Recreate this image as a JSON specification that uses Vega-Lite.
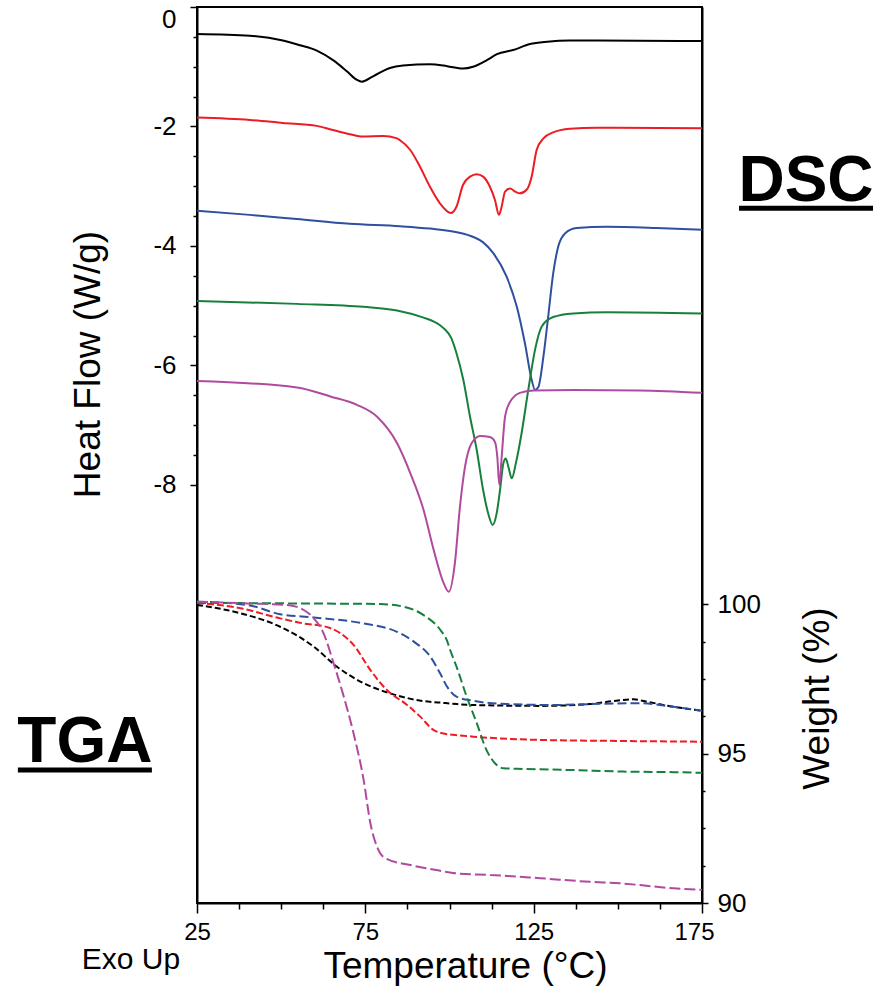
{
  "$schema": "https://vega.github.io/schema/vega-lite/v6.json",
  "width": 505,
  "height": 896,
  "autosize": {"type": "none"},
  "padding": {"left": 197, "top": 7, "right": 183, "bottom": 84},
  "background": "white",
  "config": {
    "view": {"stroke": "#000", "strokeWidth": 2},
    "font": "Liberation Sans",
    "axis": {"domainColor": "#000", "domainWidth": 2, "tickColor": "#000", "tickWidth": 1.5, "labelFont": "Liberation Sans", "labelFontSize": 24, "labelColor": "#000", "titleFont": "Liberation Sans", "titleFontSize": 37, "titleFontWeight": "normal", "titleColor": "#000", "grid": false, "labelFlush": false, "labelOverlap": false, "labelBound": false}
  },
  "datasets": {
    "dsc": [
      {"s": "A", "T": 25, "HF": -0.45}, {"s": "A", "T": 40.7, "HF": -0.48}, {"s": "A", "T": 50.5, "HF": -0.56}, {"s": "A", "T": 55.6, "HF": -0.64}, {"s": "A", "T": 60.6, "HF": -0.73}, {"s": "A", "T": 65.4, "HF": -0.89}, {"s": "A", "T": 69.6, "HF": -1.08}, {"s": "A", "T": 72.5, "HF": -1.22}, {"s": "A", "T": 74.0, "HF": -1.25}, {"s": "A", "T": 77.3, "HF": -1.16}, {"s": "A", "T": 82.3, "HF": -1.02}, {"s": "A", "T": 86.2, "HF": -0.98}, {"s": "A", "T": 94.2, "HF": -0.96}, {"s": "A", "T": 99.3, "HF": -0.99}, {"s": "A", "T": 104.0, "HF": -1.03}, {"s": "A", "T": 107.0, "HF": -1.0}, {"s": "A", "T": 111.1, "HF": -0.89}, {"s": "A", "T": 114.1, "HF": -0.79}, {"s": "A", "T": 118.9, "HF": -0.72}, {"s": "A", "T": 123.9, "HF": -0.62}, {"s": "A", "T": 129.0, "HF": -0.58}, {"s": "A", "T": 135.8, "HF": -0.56}, {"s": "A", "T": 143.8, "HF": -0.56}, {"s": "A", "T": 168.5, "HF": -0.57}, {"s": "A", "T": 175, "HF": -0.57},
      {"s": "B", "T": 25, "HF": -1.85}, {"s": "B", "T": 40.7, "HF": -1.89}, {"s": "B", "T": 50.5, "HF": -1.94}, {"s": "B", "T": 60.6, "HF": -1.99}, {"s": "B", "T": 65.4, "HF": -2.06}, {"s": "B", "T": 70.4, "HF": -2.13}, {"s": "B", "T": 74.3, "HF": -2.17}, {"s": "B", "T": 80.2, "HF": -2.16}, {"s": "B", "T": 84.4, "HF": -2.2}, {"s": "B", "T": 85.3, "HF": -2.23}, {"s": "B", "T": 88.3, "HF": -2.39}, {"s": "B", "T": 91.2, "HF": -2.67}, {"s": "B", "T": 94.2, "HF": -3.01}, {"s": "B", "T": 97.2, "HF": -3.29}, {"s": "B", "T": 100.4, "HF": -3.45}, {"s": "B", "T": 102.1, "HF": -3.34}, {"s": "B", "T": 104.0, "HF": -2.98}, {"s": "B", "T": 106.1, "HF": -2.84}, {"s": "B", "T": 108.1, "HF": -2.8}, {"s": "B", "T": 110.0, "HF": -2.84}, {"s": "B", "T": 112.0, "HF": -3.01}, {"s": "B", "T": 113.5, "HF": -3.23}, {"s": "B", "T": 114.7, "HF": -3.48}, {"s": "B", "T": 115.5, "HF": -3.34}, {"s": "B", "T": 116.5, "HF": -3.09}, {"s": "B", "T": 118.0, "HF": -3.04}, {"s": "B", "T": 119.5, "HF": -3.09}, {"s": "B", "T": 120.9, "HF": -3.12}, {"s": "B", "T": 122.9, "HF": -3.06}, {"s": "B", "T": 124.4, "HF": -2.84}, {"s": "B", "T": 125.9, "HF": -2.39}, {"s": "B", "T": 127.9, "HF": -2.2}, {"s": "B", "T": 130.8, "HF": -2.1}, {"s": "B", "T": 135.8, "HF": -2.04}, {"s": "B", "T": 143.7, "HF": -2.02}, {"s": "B", "T": 175, "HF": -2.03},
      {"s": "C", "T": 25, "HF": -3.41}, {"s": "C", "T": 40.7, "HF": -3.48}, {"s": "C", "T": 54.7, "HF": -3.55}, {"s": "C", "T": 70.4, "HF": -3.63}, {"s": "C", "T": 85.3, "HF": -3.67}, {"s": "C", "T": 94.2, "HF": -3.71}, {"s": "C", "T": 102.2, "HF": -3.77}, {"s": "C", "T": 107.1, "HF": -3.85}, {"s": "C", "T": 110.0, "HF": -3.94}, {"s": "C", "T": 113.0, "HF": -4.12}, {"s": "C", "T": 117.0, "HF": -4.52}, {"s": "C", "T": 120.0, "HF": -5.02}, {"s": "C", "T": 122.4, "HF": -5.63}, {"s": "C", "T": 124.4, "HF": -6.24}, {"s": "C", "T": 125.4, "HF": -6.41}, {"s": "C", "T": 126.4, "HF": -6.36}, {"s": "C", "T": 127.9, "HF": -5.85}, {"s": "C", "T": 129.3, "HF": -5.19}, {"s": "C", "T": 130.8, "HF": -4.46}, {"s": "C", "T": 132.3, "HF": -4.01}, {"s": "C", "T": 134.3, "HF": -3.79}, {"s": "C", "T": 137.8, "HF": -3.7}, {"s": "C", "T": 146.7, "HF": -3.68}, {"s": "C", "T": 161.5, "HF": -3.7}, {"s": "C", "T": 175, "HF": -3.73},
      {"s": "D", "T": 25, "HF": -4.92}, {"s": "D", "T": 54.7, "HF": -4.97}, {"s": "D", "T": 74.5, "HF": -5.02}, {"s": "D", "T": 84.4, "HF": -5.08}, {"s": "D", "T": 92.3, "HF": -5.2}, {"s": "D", "T": 95.5, "HF": -5.27}, {"s": "D", "T": 98.3, "HF": -5.38}, {"s": "D", "T": 100.5, "HF": -5.54}, {"s": "D", "T": 102.1, "HF": -5.8}, {"s": "D", "T": 104.1, "HF": -6.24}, {"s": "D", "T": 106.1, "HF": -6.86}, {"s": "D", "T": 108.1, "HF": -7.42}, {"s": "D", "T": 110.0, "HF": -8.09}, {"s": "D", "T": 111.5, "HF": -8.48}, {"s": "D", "T": 112.8, "HF": -8.67}, {"s": "D", "T": 114.0, "HF": -8.48}, {"s": "D", "T": 115.0, "HF": -8.09}, {"s": "D", "T": 116.0, "HF": -7.64}, {"s": "D", "T": 116.7, "HF": -7.56}, {"s": "D", "T": 117.5, "HF": -7.7}, {"s": "D", "T": 118.5, "HF": -7.89}, {"s": "D", "T": 119.7, "HF": -7.64}, {"s": "D", "T": 121.4, "HF": -7.14}, {"s": "D", "T": 123.4, "HF": -6.41}, {"s": "D", "T": 125.4, "HF": -5.74}, {"s": "D", "T": 127.4, "HF": -5.35}, {"s": "D", "T": 130.8, "HF": -5.19}, {"s": "D", "T": 136.8, "HF": -5.13}, {"s": "D", "T": 146.7, "HF": -5.11}, {"s": "D", "T": 175, "HF": -5.13},
      {"s": "E", "T": 25, "HF": -6.26}, {"s": "E", "T": 54.7, "HF": -6.37}, {"s": "E", "T": 64.6, "HF": -6.52}, {"s": "E", "T": 72.5, "HF": -6.66}, {"s": "E", "T": 78.5, "HF": -6.86}, {"s": "E", "T": 84.4, "HF": -7.3}, {"s": "E", "T": 88.4, "HF": -7.81}, {"s": "E", "T": 92.3, "HF": -8.42}, {"s": "E", "T": 95.3, "HF": -9.09}, {"s": "E", "T": 98.3, "HF": -9.65}, {"s": "E", "T": 99.8, "HF": -9.79}, {"s": "E", "T": 101.6, "HF": -9.31}, {"s": "E", "T": 103.1, "HF": -8.37}, {"s": "E", "T": 104.6, "HF": -7.7}, {"s": "E", "T": 106.6, "HF": -7.3}, {"s": "E", "T": 109.1, "HF": -7.18}, {"s": "E", "T": 112.0, "HF": -7.2}, {"s": "E", "T": 113.5, "HF": -7.28}, {"s": "E", "T": 114.2, "HF": -7.53}, {"s": "E", "T": 114.8, "HF": -8.0}, {"s": "E", "T": 115.5, "HF": -7.53}, {"s": "E", "T": 116.5, "HF": -6.86}, {"s": "E", "T": 118.0, "HF": -6.61}, {"s": "E", "T": 120.9, "HF": -6.46}, {"s": "E", "T": 124.9, "HF": -6.42}, {"s": "E", "T": 136.8, "HF": -6.41}, {"s": "E", "T": 156.6, "HF": -6.42}, {"s": "E", "T": 175, "HF": -6.46}
    ],
    "tga": [
      {"s": "A", "T": 25, "W": 99.98}, {"s": "A", "T": 37.9, "W": 99.7}, {"s": "A", "T": 49.7, "W": 99.25}, {"s": "A", "T": 59.7, "W": 98.58}, {"s": "A", "T": 66.6, "W": 97.91}, {"s": "A", "T": 74.5, "W": 97.36}, {"s": "A", "T": 82.4, "W": 97.02}, {"s": "A", "T": 92.3, "W": 96.76}, {"s": "A", "T": 97.2, "W": 96.71}, {"s": "A", "T": 102.2, "W": 96.66}, {"s": "A", "T": 107.1, "W": 96.63}, {"s": "A", "T": 126.9, "W": 96.6}, {"s": "A", "T": 141.7, "W": 96.66}, {"s": "A", "T": 148.6, "W": 96.76}, {"s": "A", "T": 154.6, "W": 96.82}, {"s": "A", "T": 158.6, "W": 96.74}, {"s": "A", "T": 166.5, "W": 96.57}, {"s": "A", "T": 175, "W": 96.44},
      {"s": "B", "T": 25, "W": 100.05}, {"s": "B", "T": 37.9, "W": 99.87}, {"s": "B", "T": 49.7, "W": 99.53}, {"s": "B", "T": 57.7, "W": 99.34}, {"s": "B", "T": 62.6, "W": 99.27}, {"s": "B", "T": 67.6, "W": 99.03}, {"s": "B", "T": 71.5, "W": 98.64}, {"s": "B", "T": 76.5, "W": 97.8}, {"s": "B", "T": 81.4, "W": 97.13}, {"s": "B", "T": 87.4, "W": 96.63}, {"s": "B", "T": 91.3, "W": 96.24}, {"s": "B", "T": 95.3, "W": 95.79}, {"s": "B", "T": 97.2, "W": 95.7}, {"s": "B", "T": 102.2, "W": 95.62}, {"s": "B", "T": 107.1, "W": 95.57}, {"s": "B", "T": 126.9, "W": 95.46}, {"s": "B", "T": 146.7, "W": 95.43}, {"s": "B", "T": 175, "W": 95.4},
      {"s": "C", "T": 25, "W": 100.09}, {"s": "C", "T": 39.9, "W": 99.98}, {"s": "C", "T": 49.7, "W": 99.67}, {"s": "C", "T": 59.7, "W": 99.56}, {"s": "C", "T": 74.5, "W": 99.36}, {"s": "C", "T": 84.4, "W": 99.08}, {"s": "C", "T": 89.4, "W": 98.75}, {"s": "C", "T": 94.3, "W": 98.25}, {"s": "C", "T": 97.2, "W": 97.69}, {"s": "C", "T": 99.3, "W": 97.24}, {"s": "C", "T": 102.2, "W": 96.9}, {"s": "C", "T": 107.1, "W": 96.77}, {"s": "C", "T": 117.0, "W": 96.66}, {"s": "C", "T": 131.8, "W": 96.63}, {"s": "C", "T": 141.7, "W": 96.66}, {"s": "C", "T": 156.6, "W": 96.69}, {"s": "C", "T": 166.5, "W": 96.57}, {"s": "C", "T": 175, "W": 96.44},
      {"s": "D", "T": 25, "W": 100.05}, {"s": "D", "T": 54.7, "W": 100.03}, {"s": "D", "T": 79.4, "W": 100.01}, {"s": "D", "T": 86.4, "W": 99.92}, {"s": "D", "T": 92.3, "W": 99.64}, {"s": "D", "T": 97.3, "W": 99.14}, {"s": "D", "T": 99.2, "W": 98.8}, {"s": "D", "T": 100.2, "W": 98.47}, {"s": "D", "T": 102.1, "W": 97.91}, {"s": "D", "T": 105.1, "W": 96.91}, {"s": "D", "T": 108.1, "W": 96.02}, {"s": "D", "T": 111.0, "W": 95.12}, {"s": "D", "T": 113.5, "W": 94.68}, {"s": "D", "T": 116.0, "W": 94.51}, {"s": "D", "T": 121.9, "W": 94.49}, {"s": "D", "T": 136.8, "W": 94.45}, {"s": "D", "T": 151.6, "W": 94.4}, {"s": "D", "T": 166.5, "W": 94.38}, {"s": "D", "T": 175, "W": 94.36},
      {"s": "E", "T": 25, "W": 100.09}, {"s": "E", "T": 39.9, "W": 100.03}, {"s": "E", "T": 51.7, "W": 99.98}, {"s": "E", "T": 56.7, "W": 99.81}, {"s": "E", "T": 59.7, "W": 99.53}, {"s": "E", "T": 62.6, "W": 99.03}, {"s": "E", "T": 65.6, "W": 98.02}, {"s": "E", "T": 68.6, "W": 96.91}, {"s": "E", "T": 71.5, "W": 95.68}, {"s": "E", "T": 74.5, "W": 94.12}, {"s": "E", "T": 76.5, "W": 92.67}, {"s": "E", "T": 78.5, "W": 91.88}, {"s": "E", "T": 80.9, "W": 91.5}, {"s": "E", "T": 88.4, "W": 91.27}, {"s": "E", "T": 97.2, "W": 91.08}, {"s": "E", "T": 102.2, "W": 90.99}, {"s": "E", "T": 112.0, "W": 90.94}, {"s": "E", "T": 126.9, "W": 90.83}, {"s": "E", "T": 141.7, "W": 90.71}, {"s": "E", "T": 150.6, "W": 90.66}, {"s": "E", "T": 156.6, "W": 90.6}, {"s": "E", "T": 166.5, "W": 90.49}, {"s": "E", "T": 175, "W": 90.44}
    ],
    "dscLabel": [{"label": "DSC", "T": 205.9, "T2": 225.8, "T1": 186.0, "HF": -3.25, "HFu": -3.37}],
    "tgaLabel": [{"label": "TGA", "T": -8.3, "T1": -28.2, "T2": 11.6, "W": 94.72, "Wu": 94.45}],
    "exoLabel": [{"label": "Exo Up", "T": 5.4, "W": 87.8}]
  },
  "encoding": {
    "x": {
      "field": "T", "type": "quantitative",
      "scale": {"domain": [25, 175], "nice": false, "zero": false},
      "axis": {
        "title": "Temperature (°C)",
        "values": [25, 37.5, 50, 62.5, 75, 87.5, 100, 112.5, 125, 137.5, 150, 162.5, 175],
        "labelExpr": "(datum.value - 25) % 50 === 0 ? '' + datum.value : ''",
        "tickSize": {"condition": {"test": "(datum.value - 25) % 50 === 0", "value": 10}, "value": 6},
        "labelOffset": {"condition": {"test": "datum.value === 175", "value": -8}, "value": 0},
        "labelFontSize": 24,
        "labelPadding": 7,
        "titleX": 268, "titleY": 74, "titleBaseline": "alphabetic", "titleAlign": "center"
      }
    }
  },
  "layer": [
    {
      "layer": [
        {
          "data": {"name": "dsc"},
          "mark": {"type": "line", "strokeWidth": 2, "interpolate": "monotone"},
          "encoding": {
            "y": {
              "field": "HF", "type": "quantitative",
              "scale": {"domain": [-15, 0], "nice": false, "zero": false},
              "axis": {
                "orient": "left",
                "title": "Heat Flow (W/g)",
                "values": [0, -0.25, -0.5, -0.75, -1, -1.25, -1.5, -1.75, -2, -2.25, -2.5, -2.75, -3, -3.25, -3.5, -3.75, -4, -4.25, -4.5, -4.75, -5, -5.25, -5.5, -5.75, -6, -6.25, -6.5, -6.75, -7, -7.25, -7.5, -7.75, -8],
                "labelExpr": "datum.value % 2 === 0 ? '' + datum.value : ''",
                "tickSize": {"condition": {"test": "datum.value % 2 === 0", "value": 7}, "value": 4},
                "labelOffset": {"condition": {"test": "datum.value === 0", "value": 12}, "value": 0},
                "labelFontSize": 26,
                "labelPadding": 14,
                "titleX": -90, "titleY": 357, "titleAngle": 270, "titleBaseline": "bottom", "titleAlign": "center"
              }
            },
            "color": {"field": "s", "type": "nominal", "scale": {"domain": ["A", "B", "C", "D", "E"], "range": ["#000000", "#ec1c24", "#2f4f9f", "#16803c", "#b04a9e"]}, "legend": null},
            "detail": {"field": "s"}
          }
        },
        {
          "data": {"name": "dscLabel"},
          "mark": {"type": "text", "font": "Liberation Sans", "fontWeight": "bold", "fontSize": 64, "align": "center", "baseline": "alphabetic", "fill": "#000"},
          "encoding": {
            "y": {"field": "HF", "type": "quantitative"},
            "text": {"field": "label"}
          }
        },
        {
          "data": {"name": "dscLabel"},
          "mark": {"type": "rule", "strokeWidth": 5, "stroke": "#000"},
          "encoding": {
            "x": {"field": "T1", "type": "quantitative"},
            "x2": {"field": "T2"},
            "y": {"field": "HFu", "type": "quantitative"}
          }
        }
      ]
    },
    {
      "layer": [
        {
          "data": {"name": "tga"},
          "mark": {"type": "line", "strokeWidth": 2, "interpolate": "monotone"},
          "encoding": {
            "y": {
              "field": "W", "type": "quantitative",
              "scale": {"domain": [90, 120], "nice": false, "zero": false},
              "axis": {
                "orient": "right",
                "title": "Weight (%)",
                "values": [90, 91.25, 92.5, 93.75, 95, 96.25, 97.5, 98.75, 100],
                "labelExpr": "datum.value % 5 === 0 ? '' + datum.value : ''",
                "tickSize": {"condition": {"test": "datum.value % 5 === 0", "value": 6}, "value": 3},
                "labelFontSize": 26,
                "labelPadding": 9,
                "titleX": 134, "titleY": 691, "titleAngle": 270, "titleBaseline": "bottom", "titleAlign": "center"
              }
            },
            "color": {"field": "s", "type": "nominal", "legend": null},
            "strokeDash": {"field": "s", "type": "nominal", "scale": {"domain": ["A", "B", "C", "D", "E"], "range": [[6, 3], [7, 3], [9, 4], [9, 4], [11, 4]]}, "legend": null}
          }
        },
        {
          "data": {"name": "tgaLabel"},
          "mark": {"type": "text", "font": "Liberation Sans", "fontWeight": "bold", "fontSize": 64, "align": "center", "baseline": "alphabetic", "fill": "#000"},
          "encoding": {
            "y": {"field": "W", "type": "quantitative"},
            "text": {"field": "label"}
          }
        },
        {
          "data": {"name": "tgaLabel"},
          "mark": {"type": "rule", "strokeWidth": 5, "stroke": "#000"},
          "encoding": {
            "x": {"field": "T1", "type": "quantitative"},
            "x2": {"field": "T2"},
            "y": {"field": "Wu", "type": "quantitative"}
          }
        },
        {
          "data": {"name": "exoLabel"},
          "mark": {"type": "text", "font": "Liberation Sans", "fontSize": 30, "align": "center", "baseline": "alphabetic", "fill": "#000"},
          "encoding": {
            "y": {"field": "W", "type": "quantitative"},
            "text": {"field": "label"}
          }
        }
      ]
    }
  ],
  "resolve": {"scale": {"y": "independent"}}
}
